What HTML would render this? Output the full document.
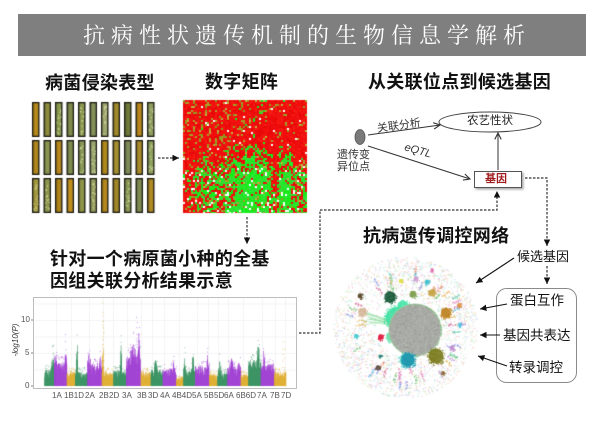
<!DOCTYPE html>
<html><head><meta charset="utf-8">
<style>
html,body{margin:0;padding:0;background:#fff;}
#w{position:relative;width:600px;height:421px;overflow:hidden;background:#fff;}
canvas,svg{position:absolute;left:0;top:0;}
.t{position:absolute;white-space:nowrap;line-height:1;font-family:"Liberation Sans","Noto Sans CJK SC",sans-serif;color:#111;}
.h{font-size:18px;font-weight:bold;letter-spacing:0.3px;}
.s{font-size:11px;color:#333;}
.m{font-size:13.5px;color:#111;}
.ax{font-size:8px;color:#555;}
.ti{position:absolute;top:25px;line-height:1;font-size:22px;color:#fff;font-family:"Liberation Serif","Noto Serif CJK SC",serif;}
</style></head><body>
<div id="w">
<div style="position:absolute;left:18px;top:14px;width:568px;height:42px;background:#7f7f7f;"></div>
<canvas id="c" width="600" height="421"></canvas>
<svg width="600" height="421" viewBox="0 0 600 421">
<defs>
<marker id="fa" viewBox="0 0 10 10" refX="10" refY="5" markerUnits="userSpaceOnUse" markerWidth="6.5" markerHeight="6.5" orient="auto"><path d="M0,0 L10,5 L0,10 z" fill="#111"/></marker>
<marker id="oa" viewBox="0 0 10 10" refX="9" refY="5" markerUnits="userSpaceOnUse" markerWidth="8" markerHeight="8" orient="auto"><path d="M1,1 L9,5 L1,9" fill="none" stroke="#333" stroke-width="1.4"/></marker>
<filter id="sh" x="-20%" y="-20%" width="150%" height="160%"><feDropShadow dx="1.5" dy="1.5" stdDeviation="1" flood-color="#000" flood-opacity="0.35"/></filter>
</defs>
<rect x="33.5" y="297.5" width="263" height="91" fill="none" stroke="#bdbdbd" stroke-width="1"/>
<g stroke="#666" stroke-width="0.8">
<line x1="31" y1="320" x2="33" y2="320"/><line x1="31" y1="353" x2="33" y2="353"/><line x1="31" y1="386" x2="33" y2="386"/>
</g>
<g fill="none" stroke="#333" stroke-width="1.2" stroke-dasharray="2.5 1.5">
<path d="M158 158 H179" marker-end="url(#fa)"/>
<path d="M247 217 V244" marker-end="url(#fa)"/>
<path d="M299 333 H320 V210 H497 V191" marker-end="url(#fa)"/>
<path d="M525 178 H547 V246" marker-end="url(#fa)"/>
<path d="M547 266 V284" marker-end="url(#fa)"/>
</g>
<ellipse cx="360" cy="137" rx="5" ry="7.5" fill="#7a7a7a" stroke="#555" stroke-width="0.8"/>
<ellipse cx="490" cy="122" rx="51" ry="10" fill="#fff" stroke="#444" stroke-width="1"/>
<rect x="474.5" y="171.5" width="47" height="16" fill="#fff" stroke="#555" stroke-width="1" filter="url(#sh)"/>
<g stroke="#333" stroke-width="1" fill="none">
<path d="M368 135 L440 125" marker-end="url(#oa)"/>
<path d="M368 146 L470 179" marker-end="url(#oa)"/>
<path d="M498 170 V133" marker-end="url(#oa)"/>
</g>
<rect x="496.5" y="288.5" width="80" height="94" rx="10" ry="10" fill="none" stroke="#8a8a8a" stroke-width="1"/>
<g stroke="#111" stroke-width="1.1" fill="none">
<path d="M514 258 L476 283" marker-end="url(#fa)"/>
<path d="M507 304 L480 309" marker-end="url(#fa)"/>
<path d="M500 335 L480 335" marker-end="url(#fa)"/>
<path d="M507 366 L478 356" marker-end="url(#fa)"/>
</g>
</svg>

<span class="ti" style="left:83px">抗</span><span class="ti" style="left:111px">病</span><span class="ti" style="left:139px">性</span><span class="ti" style="left:167px">状</span><span class="ti" style="left:195px">遗</span><span class="ti" style="left:223px">传</span><span class="ti" style="left:251px">机</span><span class="ti" style="left:279px">制</span><span class="ti" style="left:307px">的</span><span class="ti" style="left:335px">生</span><span class="ti" style="left:363px">物</span><span class="ti" style="left:391px">信</span><span class="ti" style="left:419px">息</span><span class="ti" style="left:447px">学</span><span class="ti" style="left:475px">解</span><span class="ti" style="left:503px">析</span>

<div class="t h" style="left:45px;top:74px;">病菌侵染表型</div>
<div class="t h" style="left:205px;top:73px;">数字矩阵</div>
<div class="t h" style="left:368px;top:73px;">从关联位点到候选基因</div>
<div class="t h" style="left:50px;top:250px;">针对一个病原菌小种的全基</div>
<div class="t h" style="left:50px;top:272px;">因组关联分析结果示意</div>
<div class="t h" style="left:363px;top:227px;">抗病遗传调控网络</div>

<div class="t s" style="left:337px;top:150px;">遗传变</div>
<div class="t s" style="left:337px;top:162px;">异位点</div>
<div class="t s" style="left:377px;top:121px;transform:rotate(-8deg);transform-origin:50% 50%;">关联分析</div>
<div class="t s" style="left:404px;top:146px;font-style:italic;transform:rotate(16deg);transform-origin:50% 50%;">eQTL</div>
<div class="t" style="left:467px;top:116px;font-size:11.5px;color:#222;">农艺性状</div>
<div class="t" style="left:485px;top:174px;font-size:11px;font-weight:bold;color:#a01c1c;">基因</div>

<div class="t m" style="left:517px;top:250px;font-size:13px;">候选基因</div>
<div class="t m" style="left:510px;top:294px;">蛋白互作</div>
<div class="t m" style="left:503px;top:329px;">基因共表达</div>
<div class="t m" style="left:509px;top:361px;">转录调控</div>

<div class="t ax" style="left:21px;top:316px;">10</div>
<div class="t ax" style="left:25px;top:349px;">5</div>
<div class="t ax" style="left:25px;top:382px;">0</div>
<div class="t" style="left:-2px;top:336px;font-size:8px;color:#333;font-style:italic;transform:rotate(-90deg);transform-origin:50% 50%;width:36px;text-align:center;">-log10(P)</div>

<div class="t ax" style="left:52px;top:392px;">1A</div>
<div class="t ax" style="left:64px;top:392px;">1B1D</div>
<div class="t ax" style="left:85px;top:392px;">2A</div>
<div class="t ax" style="left:99px;top:392px;">2B</div>
<div class="t ax" style="left:109px;top:392px;">2D</div>
<div class="t ax" style="left:122px;top:392px;">3A</div>
<div class="t ax" style="left:137px;top:392px;">3B</div>
<div class="t ax" style="left:148px;top:392px;">3D</div>
<div class="t ax" style="left:160px;top:392px;">4A</div>
<div class="t ax" style="left:172px;top:392px;">4B4D</div>
<div class="t ax" style="left:192px;top:392px;">5A</div>
<div class="t ax" style="left:204px;top:392px;">5B</div>
<div class="t ax" style="left:214px;top:392px;">5D</div>
<div class="t ax" style="left:224px;top:392px;">6A</div>
<div class="t ax" style="left:236px;top:392px;">6B6D</div>
<div class="t ax" style="left:257px;top:392px;">7A</div>
<div class="t ax" style="left:270px;top:392px;">7B</div>
<div class="t ax" style="left:281px;top:392px;">7D</div>
</div>

<script>
(function(){
var cv=document.getElementById('c');var g=cv.getContext('2d');
var s=20240611;
function R(){s|=0;s=s+0x6D2B79F5|0;var t=Math.imul(s^s>>>15,1|s);t=t+Math.imul(t^t>>>7,61|t)^t;return((t^t>>>14)>>>0)/4294967296;}
function pick(a){return a[Math.floor(R()*a.length)];}

/* ---------- leaves ---------- */
var leafCols=[
['#b5891c','#8d8b3c','#8a9a50','#7f8a4c','#8d9a52','#84905a','#a0a870','#a08a2c','#6f7a38','#b8861c','#8fa060'],
['#b0861e','#8a9452','#b8881e','#7e8c50','#8a9a5a','#9aa870','#b08a1e','#a49030','#7d8c58','#a88a2a','#8fa25e'],
['#a49a40','#8e9850','#b0841c','#c0901e','#8e9448','#98a060','#b4881e','#a08828','#8a9a58','#7e8a50','#b08a22']];
var spotted=[[0,0,1,0,1,0,1,0,0,0,1],[0,0,0,0,1,1,0,0,0,0,1],[1,1,0,0,0,1,0,0,1,0,0]];
var rowsY=[102,140,178];
for(var r=0;r<3;r++){for(var c=0;c<11;c++){
 var x=32+c*11.5,y=rowsY[r];
 g.fillStyle='#1b1a12';g.fillRect(x,y,7.5,35);
 g.fillStyle=leafCols[r][c];g.fillRect(x+1.3,y+1.3,4.9,32.4);
 g.fillStyle='rgba(0,0,0,0.12)';g.fillRect(x+1.3,y+1.3,1.2,32.4);
 if(spotted[r][c]){g.fillStyle='rgba(225,228,170,0.75)';for(var k=0;k<14;k++){g.fillRect(x+1.5+R()*4,y+4+R()*28,1.1,1.4);}}
}}

/* ---------- heatmap ---------- */
var hx=183,hy=100,hw=124,hh=113,cs=2;
var nc=62,nr=57;var cb=[],cur=0;
for(var i=0;i<nc;i++){if(i%3==0&&R()<0.6)cur=(R()-0.5)*0.55;cb.push(cur);}
var reds=['#f20c0c','#ee1010','#f51a10','#e80808'];
var greens=['#1ee81e','#2ae02a','#10f010','#3cd83c','#22ee30'];
var olives=['#9a9a20','#a8a028','#8c9a1c','#b0a030','#c0b040'];
for(var j=0;j<nr;j++){
 var fy=(j*cs)/hh;
 var p= fy<0.4?0.01: fy<0.52?0.01+(fy-0.4)/0.12*0.3 : fy<0.62?0.36 : 0.62;
 for(var i=0;i<nc;i++){
  var q=p+cb[i]*(fy>0.4?1:0.1);
  if(i<6)q*=0.2;
  if(fy>0.86&&i<14)q*=0.5;
  var olv=0.08;
  if(fy<0.45&&i<32)olv=0.18;
  var rr=R();var col;
  var wp=fy>0.6?0.06:0.015;
  if(R()<wp)col='#ffffff';
  else if(rr<q)col=pick(greens);
  else if(rr<q+olv)col=pick(olives);
  else col=pick(reds);
  g.fillStyle=col;g.fillRect(hx+i*cs,hy+j*cs,cs,cs);
 }
}
g.clearRect(hx+hw,hy,10,hh+2);g.clearRect(hx,hy+hh,hw+2,4);

/* ---------- manhattan ---------- */
var y0=386,u=6.6;
g.strokeStyle='#ededed';g.lineWidth=0.6;
[2.5,5,7.5,10,12.5].forEach(function(k){g.beginPath();g.moveTo(34,y0-k*u+0.5);g.lineTo(296,y0-k*u+0.5);g.stroke();});
[56,71,89,103,113,127,141,152,164,179,197,208,218,228,243,262,275,285].forEach(function(xx){g.beginPath();g.moveTo(xx+0.5,298);g.lineTo(xx+0.5,388);g.stroke();});
var CG='#2b8a57',CP='#9a34cf',CY='#dca824';
var segs=[
[44.3,54,CG,2.5,[[0.85,5.4,0.12]],[[0.85,7]]],
[54,66.7,CP,3.6,[[0.1,5,0.1],[0.9,5.4,0.1]],[[0.9,8.5]]],
[66.7,75,CY,2.2,[],[]],
[75,87.3,CG,2.2,[[0.15,6.8,0.06]],[]],
[87.3,101.7,CP,3.4,[[0.1,5,0.1],[0.9,4.6,0.08]],[]],
[101.7,113.3,CY,2.2,[[0.08,7,0.05]],[[0.08,13],[0.08,11],[0.1,9.5]]],
[113.3,126,CG,2.5,[[0.6,6.8,0.06]],[]],
[126,140.7,CP,4.6,[[0.5,6.4,0.2],[0.85,8.3,0.07]],[[0.7,10.5],[0.85,9.5]]],
[140.7,150.7,CY,2.2,[],[]],
[150.7,162.7,CG,2.5,[[0.4,4.1,0.1]],[]],
[162.7,176,CP,2.6,[[0.8,3.6,0.1]],[]],
[176,183.3,CY,1.3,[],[]],
[183.3,195,CG,2.4,[[0.1,5,0.06],[0.8,5,0.08]],[]],
[195,209,CP,3,[[0.9,5.3,0.08]],[]],
[209,217.3,CY,1.8,[],[]],
[217.3,227.3,CG,2.2,[[0.2,4,0.1]],[]],
[227.3,240.7,CP,3,[[0.3,4.3,0.1],[0.9,4.1,0.08]],[]],
[240.7,248.3,CY,1.8,[],[]],
[248.3,260.7,CG,4,[[0.8,6.5,0.1]],[]],
[260.7,274,CP,3.4,[[0.2,5.5,0.07]],[]],
[274,286,CY,2.2,[],[[0.7,7],[0.8,6]]]
];
segs.forEach(function(sg){
 var x0=sg[0],x1=sg[1],col=sg[2],base=sg[3],pk=sg[4];
 function env(f){var e=base;pk.forEach(function(p){var d=(f-p[0])/p[2];e=Math.max(e,base+(p[1]-base)*Math.exp(-d*d));});return e;}
 g.fillStyle=col;
 for(var x=x0;x<x1;x+=0.3){
  var f=(x-x0)/(x1-x0);var e=env(f);
  var h=e*(0.45+0.55*Math.pow(R(),0.5));
  g.fillRect(x,y0-h*u,0.55,h*u);
 }
 g.globalAlpha=0.5;
 for(var k=0;k<12;k++){var f=R();var e=env(f);var h=e*(1+R()*0.3);g.fillRect(x0+f*(x1-x0),y0-h*u,1,1);}
 sg[5].forEach(function(d){var xx=x0+d[0]*(x1-x0);for(var hh2=base*1.3;hh2<d[1];hh2+=0.7+R()*0.7){g.fillRect(xx+(R()-0.5)*1.5,y0-hh2*u,1,1);}});
 g.globalAlpha=1;
});

/* ---------- network ---------- */
var cx=405,cy=327;
var pastel=['#f2a0c4','#9fd0f0','#b8e0a0','#d0b0e8','#f0d08c','#a0e4d4','#f4b890','#c8c8f0','#a8e8b8','#f0a8a8'];
for(var i=0;i<2200;i++){
 var a=R()*Math.PI*2;var rr=Math.sqrt(R()*(72*72-30*30)+30*30);
 g.globalAlpha=0.4+R()*0.3;g.fillStyle=pick(pastel);
 var px=cx+Math.cos(a)*rr,py=cy+Math.sin(a)*rr*0.98;
 if(R()<0.5)g.fillRect(px,py,1.2,1.2);else{g.fillRect(px,py,1.8*Math.abs(Math.cos(a+1)),1);}
}
var streakCols=['#e070b0','#50b0e0','#70c070','#b080d0','#e0b040','#40c0a0','#e08060','#8090e0','#60c060','#d06090'];
for(var i=0;i<46;i++){
 var a=R()*Math.PI*2;var r0=38+R()*18;var col=pick(streakCols);
 g.globalAlpha=0.65;g.fillStyle=col;
 for(var k=0;k<9;k++){var rr=r0+k*0.9+R()*1.2;var px=cx+Math.cos(a)*rr+(R()-0.5)*2,py=cy+Math.sin(a)*rr+(R()-0.5)*2;g.fillRect(px,py,1.3,1.3);}
}
g.globalAlpha=1;
function blob(x,y,r,col,n,alpha){
 g.fillStyle=col;g.globalAlpha=alpha||0.9;
 g.beginPath();g.arc(x,y,r*0.8,0,Math.PI*2);g.fill();
 for(var k=0;k<n;k++){var a=R()*Math.PI*2,rr=r*Math.sqrt(R());g.fillRect(x+Math.cos(a)*rr,y+Math.sin(a)*rr,1.2,1.2);}
 g.globalAlpha=1;
}
g.strokeStyle='rgba(120,215,140,0.55)';g.lineWidth=0.7;
for(var k=0;k<12;k++){g.beginPath();g.moveTo(362+R()*8,312+R()*14);g.lineTo(392,318+R()*8);g.stroke();}
blob(397,318,14,'#3ee0a2',140);
blob(403,306,7,'#48e6aa',50);
blob(391,337,6,'#60e0a8',35,0.8);
g.fillStyle='#a6c4a4';g.beginPath();g.arc(415,330,26.5,0,Math.PI*2);g.fill();
g.fillStyle='#a9aba6';g.beginPath();g.arc(415,330,25.5,0,Math.PI*2);g.fill();
for(var k=0;k<500;k++){var a=R()*Math.PI*2,rr=25*Math.sqrt(R());g.fillStyle=R()<0.5?'#b9bbb6':'#979994';g.fillRect(415+Math.cos(a)*rr,330+Math.sin(a)*rr,1,1);}
for(var k=0;k<60;k++){var a=R()*Math.PI*2;g.fillStyle='rgba(110,190,110,0.6)';g.fillRect(415+Math.cos(a)*26,330+Math.sin(a)*26,1.2,1.2);}
blob(390,297,7,'#1a5a3a',60);
blob(413,294,4,'#80a050',25);
blob(432,293,4.5,'#c4a444',25);
blob(446,313,6.5,'#c08424',50);
blob(407,360,9,'#38d0c0',40,0.8);
blob(408,360,8.5,'#1f96ae',70);
blob(436,356,9.5,'#7a7a1c',80);
blob(381,337,3.5,'#e01c40',20);
blob(362,312,5,'#d4b494',40,0.8);
blob(360,296,3,'#5a4a2a',15);
blob(416,279,3,'#d0a0d0',12);
blob(401,281,2.5,'#e0e040',10);
blob(427,282,3,'#40c0d0',12);
blob(378,368,3,'#605040',12);
blob(380,356,2,'#208070',8);
blob(452,348,3,'#c090d0',12);
blob(460,325,2.5,'#50c0e0',10);
blob(459,305,2.5,'#e09040',10);
blob(356,336,2.5,'#40c8d0',10);
blob(443,373,2.5,'#8a6a3a',10);
blob(432,270,2,'#e070b0',8);
})();
</script>
</body></html>
